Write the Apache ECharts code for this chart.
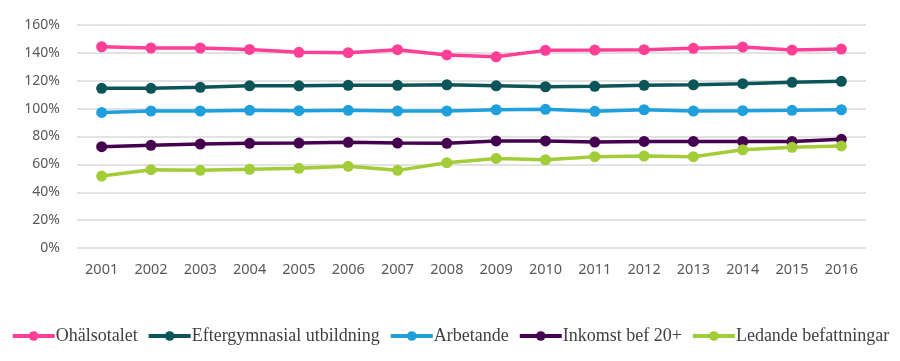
<!DOCTYPE html>
<html><head><meta charset="utf-8">
<script src="https://cdn.jsdelivr.net/npm/echarts@6/dist/echarts.min.js"></script>
<style>html,body{margin:0;padding:0;background:#fff}#c{width:900px;height:361px}</style>
</head><body><div id="c"></div>
<script>
const years = ['2001','2002','2003','2004','2005','2006','2007','2008','2009','2010','2011','2012','2013','2014','2015','2016'];
const ohalsotalet = [144.4,143.5,143.5,142.5,140.4,140.1,142.3,138.5,137.2,141.8,142.0,142.3,143.3,144.2,142.0,142.7];
const eftergymnasial = [114.6,114.6,115.3,116.4,116.4,116.7,116.7,117.1,116.4,115.7,116.0,116.7,117.1,117.9,118.9,119.6];
const arbetande = [97.3,98.3,98.3,98.8,98.5,98.8,98.3,98.3,99.2,99.5,98.1,99.2,98.3,98.5,98.8,99.2];
const inkomst = [72.7,73.7,74.6,75.1,75.3,75.8,75.3,75.1,76.8,76.8,76.0,76.5,76.5,76.5,76.5,78.0];
const ledande = [51.6,56.2,55.7,56.5,57.2,58.6,55.7,61.2,64.3,63.3,65.5,66.0,65.5,70.5,72.2,73.2];
const seriesNames = ['Ohälsotalet','Eftergymnasial utbildning','Arbetande','Inkomst bef 20+','Ledande befattningar'];
const seriesData = [ohalsotalet, eftergymnasial, arbetande, inkomst, ledande];
const colors = ['#FF3E96','#0B5457','#1F9FDB','#45004F','#A2CC38'];

const chart = echarts.init(document.getElementById('c'));
chart.setOption({
  animation:false,
  color: colors,
  grid:{left:77,right:34,top:25,bottom:113},
  legend:{
    top:327, left:'center', width:900, padding:0,
    itemWidth:42, itemHeight:12, itemGap:9,
    lineStyle:{width:4},
    textStyle:{fontFamily:'Liberation Serif',fontSize:18,color:'#404040',padding:[0,0,0,-4]},
    data: seriesNames
  },
  xAxis:{
    type:'category', data:years, boundaryGap:true,
    axisLine:{show:false}, axisTick:{show:false},
    axisLabel:{fontFamily:'Noto Sans',fontSize:14.5,color:'#595959',margin:14}
  },
  yAxis:{
    type:'value', min:0, max:160, interval:20,
    axisLine:{show:false}, axisTick:{show:false},
    axisLabel:{formatter:'{value}%',fontFamily:'Noto Sans',fontSize:14,color:'#595959',margin:17},
    splitLine:{lineStyle:{color:'#d9d9d9',width:1.5}}
  },
  series: seriesNames.map((n,i)=>({
    name:n, type:'line', data:seriesData[i],
    symbol:'circle', symbolSize:11,
    lineStyle:{width:3.5}, itemStyle:{color:colors[i]}
  }))
});
</script></body></html>
